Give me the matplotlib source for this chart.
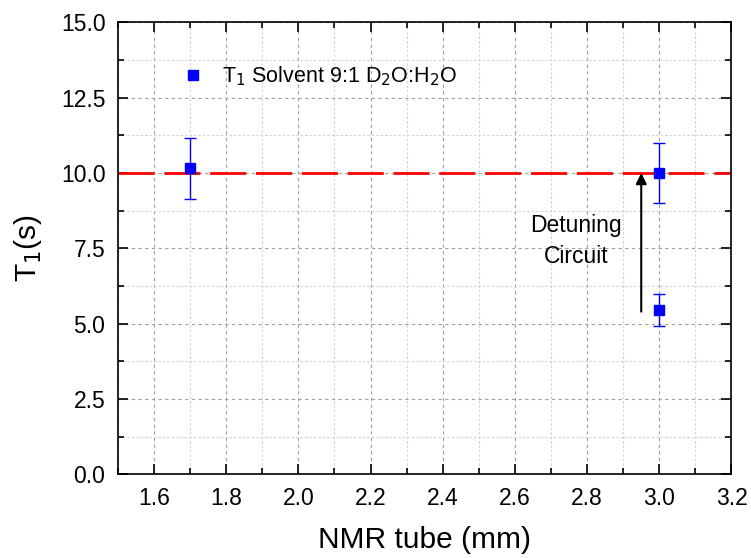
import matplotlib.pyplot as plt
from matplotlib.ticker import MultipleLocator

plt.rcParams['font.family'] = ['Liberation Sans', 'DejaVu Sans']

# measured T1 values
tube = [1.7, 3.0, 3.0]
t1 = [10.15, 10.0, 5.45]
t1_err = [1.0, 1.0, 0.53]
ref_level = 10.0

x_ticks = [1.6, 1.8, 2.0, 2.2, 2.4, 2.6, 2.8, 3.0, 3.2]
y_ticks = [0.0, 2.5, 5.0, 7.5, 10.0, 12.5, 15.0]

fig, ax = plt.subplots(figsize=(7.51, 5.58), dpi=100)
fig.subplots_adjust(left=0.157, right=0.974, top=0.96, bottom=0.15)

ax.axhline(ref_level, color='red', ls=(0, (13, 3.5)), lw=2.0, zorder=2)
ax.errorbar(tube, t1, yerr=t1_err, fmt='s', color='blue', ms=7.5,
            ecolor='blue', elinewidth=1, capsize=4, capthick=1, zorder=3)
# legend handle: marker only
ax.plot([], [], 's', color='blue', ms=7.5,
        label='T$_1$ Solvent 9:1 D$_2$O:H$_2$O')

ax.annotate('', xy=(2.95, ref_level), xytext=(2.95, 5.4),
            arrowprops=dict(arrowstyle='-|>', color='black', lw=1.5,
                            mutation_scale=16, shrinkA=0, shrinkB=0))
ax.text(2.77, 7.75, 'Detuning\nCircuit', fontsize=16.5, ha='center',
        va='center', linespacing=1.45)

ax.set_xlim(1.5, 3.2)
ax.set_ylim(0, 15)
ax.set_xticks(x_ticks)
ax.set_yticks(y_ticks)
ax.set_xticklabels([f'{v:.1f}' for v in x_ticks])
ax.set_yticklabels([f'{v:.1f}' for v in y_ticks])
ax.xaxis.set_minor_locator(MultipleLocator(0.1))
ax.yaxis.set_minor_locator(MultipleLocator(1.25))

ax.grid(which='major', color='#a0a0a0', ls=(0, (3, 3)), lw=0.8)
ax.grid(which='minor', color='#d0d0d0', ls=(0, (2, 2)), lw=0.8)
ax.set_axisbelow(True)

ax.tick_params(which='both', direction='in', top=True, right=True,
               labelsize=16.5, width=1.2)
ax.tick_params(which='major', length=7, pad=9)
ax.tick_params(which='minor', length=4)
for s in ax.spines.values():
    s.set_linewidth(1.2)

ax.set_xlabel('NMR tube (mm)', fontsize=21.5, labelpad=12)
ax.set_ylabel('T$_1$(s)', fontsize=21.5, labelpad=12)

ax.legend(loc='upper left', bbox_to_anchor=(0.064, 0.95), frameon=False,
          fontsize=15.5, handletextpad=0.6, handlelength=1.5, numpoints=1)

fig.savefig('out.png', dpi=100)
